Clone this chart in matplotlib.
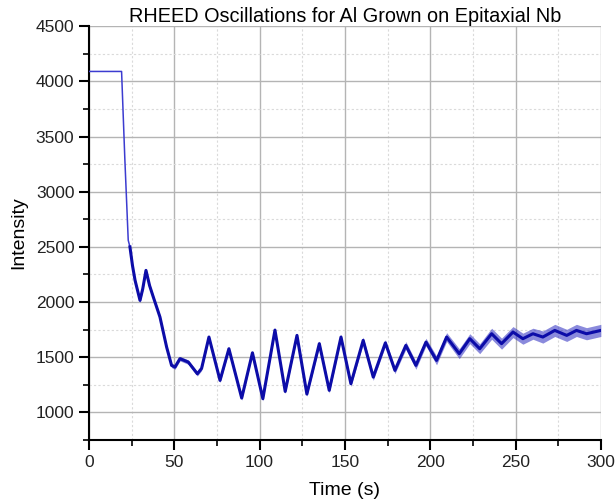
import numpy as np
import matplotlib.pyplot as plt
from matplotlib.ticker import MultipleLocator

plt.rcParams['font.family'] = ['Liberation Sans', 'DejaVu Sans']

# values (centre of the noisy trace)
time_s = [0, 19.1, 21, 23, 24, 25.5, 27, 29.9, 31.5, 33.4, 35.5, 37.7, 41.6, 45.5, 48.4,
          50.4, 53.3, 58.2, 63.5, 66, 70.3, 76.8, 82, 89.5, 95.8, 101.9, 109, 115,
          121.9, 127.7, 135, 140.8, 147.7, 153.5, 160.7, 166.6, 173.7, 179.3, 185.7,
          191.6, 197.5, 203.7, 209.6, 217, 223.2, 229, 236, 241.8, 248.5, 254.3, 260.2,
          266, 273, 280, 285.7, 291.6, 300]
intensity = [4090, 4090, 3300, 2560, 2500, 2330, 2197, 2015, 2120, 2287, 2150, 2045,
             1864, 1592, 1426, 1411, 1487, 1456, 1350, 1399, 1683, 1290, 1577, 1130,
             1540, 1124, 1746, 1190, 1698, 1166, 1623, 1200, 1683, 1260, 1653, 1320,
             1630, 1381, 1607, 1426, 1637, 1471, 1683, 1532, 1668, 1577, 1713, 1623,
             1728, 1668, 1713, 1683, 1743, 1698, 1743, 1713, 1743]
# half width of the noise band around the trace
spread = [0, 0, 5, 10, 15, 20, 20, 20, 20, 20, 20, 20, 20, 20, 20,
          20, 20, 20, 20, 20, 20, 20, 20, 20, 20, 20, 20, 20,
          20, 20, 25, 25, 25, 25, 30, 30, 30, 30, 35,
          35, 35, 40, 40, 45, 45, 45, 50, 50, 50, 50, 50,
          55, 55, 55, 55, 55, 55]
# the flat start and the fast drop are drawn thin
n_thin = 5

t = np.array(time_s)
v = np.array(intensity)
s = np.array(spread)

fig = plt.figure(figsize=(6.15, 5.04), dpi=100)
ax = fig.add_axes([0.1447, 0.127, 0.8323, 0.821])

line_col = '#0c0ca8'
ax.plot(t[:n_thin], v[:n_thin], color='#3c3cd0', lw=1.1, zorder=4)
ax.fill_between(t[n_thin - 1:], v[n_thin - 1:] - s[n_thin - 1:], v[n_thin - 1:] + s[n_thin - 1:],
                color='#2a2ac0', alpha=0.55, lw=0, zorder=3)
ax.plot(t[n_thin - 1:], v[n_thin - 1:], color=line_col, lw=2.2, zorder=4,
        solid_joinstyle='round')

ax.set_xlim(0, 300)
ax.set_ylim(750, 4500)
ax.set_xticks(range(0, 301, 50))
ax.set_yticks(range(1000, 4501, 500))
ax.xaxis.set_minor_locator(MultipleLocator(25))
ax.yaxis.set_minor_locator(MultipleLocator(250))

ax.grid(which='major', color='#b4b4b4', lw=1.0, ls='-')
ax.grid(which='minor', color='#dadada', lw=0.8, ls=(0, (2, 2)))
ax.set_axisbelow(True)

for side in ['top', 'right']:
    ax.spines[side].set_visible(False)
for side in ['left', 'bottom']:
    ax.spines[side].set_linewidth(1.5)

ax.tick_params(which='major', direction='out', length=7, width=1.5, labelsize=12.5,
               colors='black', labelcolor='#222222')
ax.tick_params(which='minor', direction='out', length=4, width=1.2)

ax.set_xlabel('Time (s)', fontsize=14, labelpad=9)
ax.set_ylabel('Intensity', fontsize=14, labelpad=6)
ax.set_title('RHEED Oscillations for Al Grown on Epitaxial Nb', fontsize=14.3, pad=0.5)

fig.savefig('out.png', dpi=100)
